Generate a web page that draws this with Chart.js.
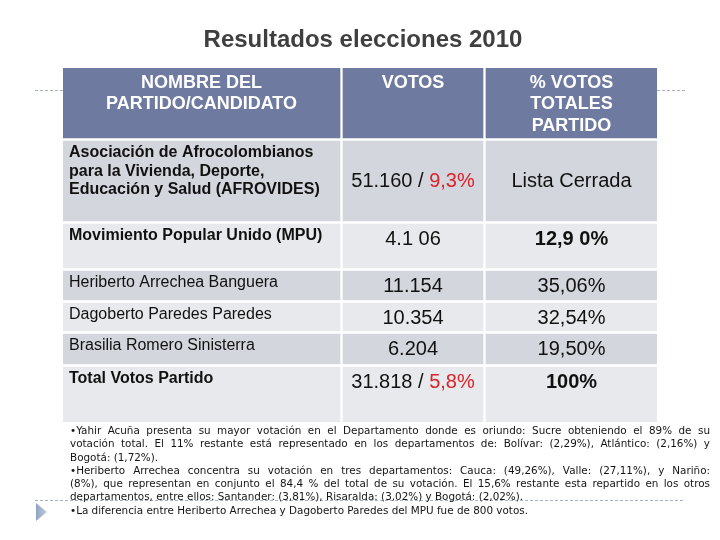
<!DOCTYPE html>
<html>
<head>
<meta charset="utf-8">
<script src="https://cdn.jsdelivr.net/npm/chart.js@4.4.0/dist/chart.umd.min.js"></script>
<style>
  html, body { margin: 0; padding: 0; background: #fff; }
  #wrap { position: relative; width: 720px; height: 540px; }
  #notes {
    position: absolute; left: 70px; top: 424px; width: 640px;
    font-family: "DejaVu Sans", Verdana, sans-serif;
    font-size: 10.4px; line-height: 13.3px; color: #141414;
  }
  #notes div { text-align: justify; text-align-last: justify; white-space: nowrap; }
  #notes div.end { text-align-last: left; }
</style>
</head>
<body>
<div id="wrap">
  <canvas id="table" width="720" height="540"></canvas>
  <div id="notes"></div>
</div>
<script>
// --- data ---
const title = 'Resultados elecciones 2010';
const headers = [
  ['NOMBRE DEL', 'PARTIDO/CANDIDATO'],
  ['VOTOS'],
  ['% VOTOS', 'TOTALES', 'PARTIDO']
];
const names = [
  ['Asociación de Afrocolombianos', 'para la Vivienda, Deporte,', 'Educación y Salud (AFROVIDES)'],
  ['Movimiento Popular Unido (MPU)'],
  ['Heriberto Arrechea Banguera'],
  ['Dagoberto Paredes Paredes'],
  ['Brasilia Romero Sinisterra'],
  ['Total Votos Partido']
];
const votos = ['51.160', '4.1 06', '11.154', '10.354', '6.204', '31.818'];
const votosShare = ['9,3%', null, null, null, null, '5,8%'];
const pctPartido = ['Lista Cerrada', '12,9 0%', '35,06%', '32,54%', '19,50%', '100%'];
const notes = [
  ['•Yahir Acuña presenta su mayor votación en el Departamento donde es oriundo: Sucre obteniendo el 89% de su',
   'votación total. El 11% restante está representado en los departamentos de: Bolívar: (2,29%), Atlántico: (2,16%) y',
   'Bogotá: (1,72%).'],
  ['•Heriberto Arrechea concentra su votación en tres departamentos: Cauca: (49,26%), Valle: (27,11%), y Nariño:',
   '(8%), que representan en conjunto el 84,4 % del total de su votación. El 15,6% restante esta repartido en los otros',
   'departamentos, entre ellos: Santander: (3,81%), Risaralda: (3,02%) y Bogotá: (2,02%).'],
  ['•La diferencia entre Heriberto Arrechea y Dagoberto Paredes del MPU fue de 800 votos.']
];

// --- layout / style ---
const rowPitch = [73, 83, 47, 32, 31, 33, 58];   // table units, header first
const rowGap = 3;
const colEdges = [[0, 277], [280, 420], [423, 594]];
const nameBold = [true, true, false, false, false, true];
const pctBold = [false, true, false, false, false, true];
const rowMiddle = [true, false, false, false, false, false];
const HEAD = '#6e7aa0', DARK = '#d3d6dd', LIGHT = '#e8e9ed', RED = '#d9232b';
const FONT = '"Liberation Sans", Arial, sans-serif';

const rowTop = [];
rowPitch.reduce((acc, p) => { rowTop.push(acc); return acc + p; }, 0);
const tableHeight = rowPitch.reduce((a, b) => a + b, 0);

const datasets = rowPitch.map((p, r) => ({
  data: colEdges.map(e => ({ x: e, y: rowTop[r] + (p - rowGap) / 2 })),
  backgroundColor: r === 0 ? HEAD : (r % 2 ? DARK : LIGHT),
  borderWidth: 0,
  grouped: false,
  barThickness: c => {
    const y = c.chart.scales.y;
    return Math.abs(y.getPixelForValue(rowPitch[c.datasetIndex] - rowGap) - y.getPixelForValue(0));
  },
  maxBarThickness: 400
}));

function cellBox(el) {
  const p = el.getProps(['x', 'base', 'y', 'height'], true);
  return {
    left: Math.min(p.x, p.base), right: Math.max(p.x, p.base),
    top: p.y - p.height / 2, bottom: p.y + p.height / 2
  };
}

const decor = {
  id: 'decor',
  beforeDraw(chart) {
    const ctx = chart.ctx;
    ctx.save();
    ctx.strokeStyle = '#aab2c2';
    ctx.lineWidth = 1;
    ctx.setLineDash([3, 2]);
    [[35, 63, 90.5], [657, 685, 90.5], [35, 685, 500.5]].forEach(([a, b, y]) => {
      ctx.beginPath(); ctx.moveTo(a, y); ctx.lineTo(b, y); ctx.stroke();
    });
    ctx.setLineDash([]);
    const g = ctx.createLinearGradient(36, 0, 47, 0);
    g.addColorStop(0, '#8fa3c2'); g.addColorStop(1, '#c3cfe0');
    ctx.fillStyle = g;
    ctx.beginPath(); ctx.moveTo(36, 503); ctx.lineTo(47, 512); ctx.lineTo(36, 521); ctx.closePath(); ctx.fill();
    ctx.fillStyle = '#3f3f3f';
    ctx.font = 'bold 24px ' + FONT;
    ctx.textAlign = 'center'; ctx.textBaseline = 'middle';
    ctx.fillText(title, 363, 40);
    ctx.restore();
  }
};

const cellText = {
  id: 'cellText',
  afterDatasetsDraw(chart) {
    const ctx = chart.ctx;
    ctx.save();
    ctx.textBaseline = 'middle';
    // header row
    chart.getDatasetMeta(0).data.forEach((el, c) => {
      const b = cellBox(el);
      ctx.fillStyle = '#fff';
      ctx.font = 'bold 18px ' + FONT;
      ctx.textAlign = 'center';
      headers[c].forEach((line, k) => ctx.fillText(line, (b.left + b.right) / 2, b.top + 15 + k * 21.3));
    });
    // body rows
    names.forEach((lines, i) => {
      const cells = chart.getDatasetMeta(i + 1).data.map(cellBox);
      ctx.fillStyle = '#111';
      ctx.textAlign = 'left';
      ctx.font = (nameBold[i] ? 'bold ' : '') + '16px ' + FONT;
      lines.forEach((line, k) => ctx.fillText(line, cells[0].left + 6, cells[0].top + 12 + k * 18.4));

      const midY = b => rowMiddle[i] ? (b.top + b.bottom) / 2 : b.top + 15;
      // votes
      ctx.font = '20px ' + FONT;
      const main = votosShare[i] ? votos[i] + ' / ' : votos[i];
      const w1 = ctx.measureText(main).width;
      const w2 = votosShare[i] ? ctx.measureText(votosShare[i]).width : 0;
      let x0 = (cells[1].left + cells[1].right) / 2 - (w1 + w2) / 2;
      ctx.fillStyle = '#111';
      ctx.fillText(main, x0, midY(cells[1]));
      if (votosShare[i]) {
        ctx.fillStyle = RED;
        ctx.fillText(votosShare[i], x0 + w1, midY(cells[1]));
      }
      // percent of party
      ctx.fillStyle = '#111';
      ctx.textAlign = 'center';
      ctx.font = (pctBold[i] ? 'bold ' : '') + '20px ' + FONT;
      ctx.fillText(pctPartido[i], (cells[2].left + cells[2].right) / 2, midY(cells[2]));
    });
    ctx.restore();
  }
};

new Chart(document.getElementById('table'), {
  type: 'bar',
  data: { datasets },
  options: {
    indexAxis: 'y',
    responsive: false,
    devicePixelRatio: 1,
    animation: false,
    events: [],
    layout: { padding: { left: 63, right: 63, top: 68, bottom: 540 - 68 - tableHeight } },
    scales: {
      x: { type: 'linear', min: 0, max: 594, display: false, offset: false },
      y: { type: 'linear', min: 0, max: tableHeight, reverse: true, display: false, offset: false }
    },
    plugins: { legend: { display: false }, tooltip: { enabled: false }, title: { display: false } }
  },
  plugins: [decor, cellText]
});

// notes under the table
const box = document.getElementById('notes');
notes.forEach(par => par.forEach((line, k) => {
  const d = document.createElement('div');
  d.textContent = line;
  if (k === par.length - 1) d.className = 'end';
  box.appendChild(d);
}));
</script>
</body>
</html>
